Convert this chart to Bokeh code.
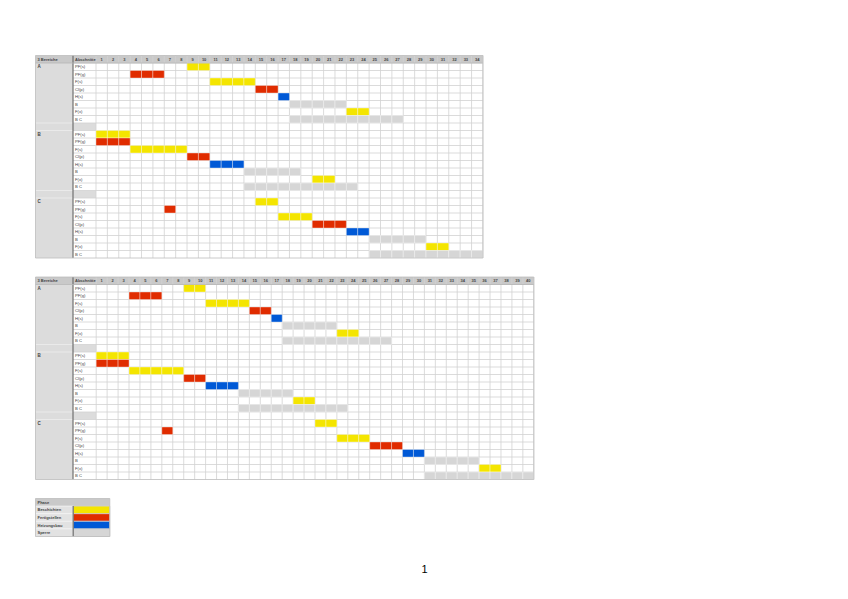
from bokeh.plotting import figure
from bokeh.models import Range1d
from bokeh.core.properties import value
from bokeh.embed import file_html
from bokeh.resources import INLINE

# ---------------- data ----------------
groups = ["A", "B", "C"]
tasks = ["PF(s)", "PF(g)", "F(s)", "Cl(p)", "H(s)", "B", "F(x)", "B C"]
task_phase = ["Beschichten", "Fertigstellen", "Beschichten", "Fertigstellen",
              "Heizungsbau", "Sperre", "Beschichten", "Sperre"]
phases = ["Beschichten", "Fertigstellen", "Heizungsbau", "Sperre"]
phase_colors = ["#f4e500", "#e02c00", "#0059d6", "#d6d6d6"]
header_left = "3 Bereiche"
header_mid = "Abschnitte"
legend_title = "Phase"
page_label = "1"

# (first day, last day) of each task, per group
top_days = 34
top_A = [(9, 10), (4, 6), (11, 14), (15, 16), (17, 17), (18, 22), (23, 24), (18, 27)]
top_B = [(1, 3), (1, 3), (4, 8), (9, 10), (11, 13), (14, 18), (20, 21), (14, 23)]
top_C = [(15, 16), (7, 7), (17, 19), (20, 22), (23, 24), (25, 29), (30, 31), (25, 34)]

bot_days = 40
bot_A = [(9, 10), (4, 6), (11, 14), (15, 16), (17, 17), (18, 22), (23, 24), (18, 27)]
bot_B = [(1, 3), (1, 3), (4, 8), (9, 10), (11, 13), (14, 18), (19, 20), (14, 23)]
bot_C = [(21, 22), (7, 7), (23, 25), (26, 28), (29, 30), (31, 35), (36, 37), (31, 40)]

# ---------------- layout ----------------
W, H = 832, 583
FONT = value("Liberation Sans")
RH = 7.5
C0, C1 = 35.0, 72.5
GRID = "#d2d2d2"
HEAD = "#c9c9c9"
SIDE = "#dcdcdc"
TXT = "#444444"

p = figure(width=W, height=H, output_backend="svg", toolbar_location=None,
           x_range=Range1d(0, W), y_range=Range1d(H, 0),
           x_axis_type=None, y_axis_type=None, min_border=0,
           outline_line_color=None, background_fill_color="white",
           border_fill_color="white")
p.xgrid.visible = False
p.ygrid.visible = False

color_of = dict(zip(phases, phase_colors))


def add_ranges(name, x0, w, top, rh):
    xr = dict(p.extra_x_ranges)
    yr = dict(p.extra_y_ranges)
    xr[name + "x"] = Range1d(start=-x0 / w, end=(W - x0) / w)
    yr[name + "y"] = Range1d(start=(H - top) / rh, end=-top / rh)
    p.extra_x_ranges = xr
    p.extra_y_ranges = yr


def draw_table(name, top, x0, w, ndays, data):
    add_ranges(name, x0, w, top, RH)
    xn, yn = name + "x", name + "y"
    nrows = 1 + len(groups) * len(tasks) + (len(groups) - 1)
    xend = x0 + ndays * w
    group_start = []
    r = 1
    for g in groups:
        group_start.append(r)
        r += len(tasks) + 1
    spacers = [s + len(tasks) for s in group_start[:-1]]

    p.quad(left=[C0], right=[xend], top=[0], bottom=[1], fill_color=HEAD,
           line_color=None, y_range_name=yn)
    p.quad(left=[C0], right=[C1], top=[1], bottom=[nrows], fill_color=SIDE,
           line_color=None, y_range_name=yn)
    p.quad(left=[C0] * len(spacers), right=[x0] * len(spacers), top=spacers,
           bottom=[s + 1 for s in spacers], fill_color=SIDE, line_color=None,
           y_range_name=yn)
    p.segment(x0=list(range(ndays + 1)), x1=list(range(ndays + 1)),
              y0=[0] * (ndays + 1), y1=[nrows] * (ndays + 1),
              line_color=GRID, line_width=0.8, x_range_name=xn, y_range_name=yn)
    rows = list(range(1, nrows))
    p.segment(x0=[C1] * len(rows), x1=[xend] * len(rows), y0=rows, y1=rows,
              line_color=GRID, line_width=0.8, y_range_name=yn)
    p.segment(x0=[C0] * (2 * len(spacers)), x1=[C1] * (2 * len(spacers)),
              y0=spacers + [s + 1 for s in spacers],
              y1=spacers + [s + 1 for s in spacers],
              line_color="#eeeeee", line_width=0.8, y_range_name=yn)

    L, R, T, B, F = [], [], [], [], []
    for gi, gdata in enumerate(data):
        for ti, (a, b) in enumerate(gdata):
            row = group_start[gi] + ti
            for d in range(a, b + 1):
                L.append(d - 1)
                R.append(d)
                T.append(row)
                B.append(row + 1)
                F.append(color_of[task_phase[ti]])
    p.quad(left=L, right=R, top=T, bottom=B, fill_color=F,
           line_color="white", line_alpha=0.45, line_width=0.8,
           x_range_name=xn, y_range_name=yn)

    p.segment(x0=[C1], x1=[C1], y0=[0], y1=[nrows], line_color="#707070",
              line_width=1.2, y_range_name=yn)
    p.segment(x0=[C0], x1=[xend], y0=[1], y1=[1], line_color="#b5b5b5",
              line_width=0.8, y_range_name=yn)
    p.quad(left=[C0], right=[xend], top=[0], bottom=[nrows], fill_color=None,
           line_color="#bdbdbd", line_width=0.8, y_range_name=yn)

    p.text(x=[C0 + 2, C1 + 2], y=[0.5, 0.5], text=[header_left, header_mid],
           text_font=FONT, text_font_size="4px", text_font_style="bold",
           text_baseline="middle", text_color=TXT, y_range_name=yn)
    p.text(x=[d - 0.5 for d in range(1, ndays + 1)], y=[0.5] * ndays,
           text=[str(d) for d in range(1, ndays + 1)], text_font=FONT,
           text_font_size="4px", text_font_style="bold", text_align="center",
           text_baseline="middle", text_color=TXT,
           x_range_name=xn, y_range_name=yn)
    p.text(x=[C0 + 2] * len(groups), y=[s + 0.5 for s in group_start], text=groups,
           text_font=FONT, text_font_size="4.5px", text_font_style="bold",
           text_baseline="middle", text_color=TXT, y_range_name=yn)
    tx, ty, tt = [], [], []
    for s in group_start:
        for ti, t in enumerate(tasks):
            tx.append(C1 + 2)
            ty.append(s + ti + 0.5)
            tt.append(t)
    p.text(x=tx, y=ty, text=tt, text_font=FONT, text_font_size="4.2px",
           text_baseline="middle", text_color=TXT, y_range_name=yn)


draw_table("t1", 55.0, 95.5, 11.38, top_days, [top_A, top_B, top_C])
draw_table("t2", 276.5, 95.7, 10.94, bot_days, [bot_A, bot_B, bot_C])

# ---------------- legend table ----------------
LRH = 7.6
add_ranges("lg", 0.0, 1.0, 498.0, LRH)
LM, LR = 72.7, 109.3
n = len(phases)
p.quad(left=[C0], right=[LR], top=[0], bottom=[1], fill_color=HEAD,
       line_color=None, y_range_name="lgy")
p.quad(left=[C0] * n, right=[LM] * n, top=list(range(1, n + 1)),
       bottom=list(range(2, n + 2)), fill_color="#e2e2e2", line_color="#f2f2f2",
       line_width=0.8, y_range_name="lgy")
p.quad(left=[LM] * n, right=[LR] * n, top=list(range(1, n + 1)),
       bottom=list(range(2, n + 2)), fill_color=phase_colors, line_color="#cfcfcf",
       line_width=0.8, y_range_name="lgy")
p.segment(x0=[LM], x1=[LM], y0=[1], y1=[n + 1], line_color="#707070",
          line_width=1.2, y_range_name="lgy")
p.quad(left=[C0], right=[LR], top=[0], bottom=[n + 1], fill_color=None,
       line_color="#bdbdbd", line_width=0.8, y_range_name="lgy")
p.text(x=[C0 + 2], y=[0.5], text=[legend_title], text_font=FONT,
       text_font_size="4px", text_font_style="bold", text_baseline="middle",
       text_color=TXT, y_range_name="lgy")
p.text(x=[C0 + 2] * n, y=[i + 1.5 for i in range(n)], text=phases, text_font=FONT,
       text_font_size="4px", text_font_style="bold", text_baseline="middle",
       text_color=TXT, y_range_name="lgy")

p.text(x=[424], y=[568], text=[page_label], text_font=FONT, text_font_size="11px",
       text_align="center", text_baseline="middle", text_color="#000000")

open("out.html", "w").write(file_html(p, INLINE))
